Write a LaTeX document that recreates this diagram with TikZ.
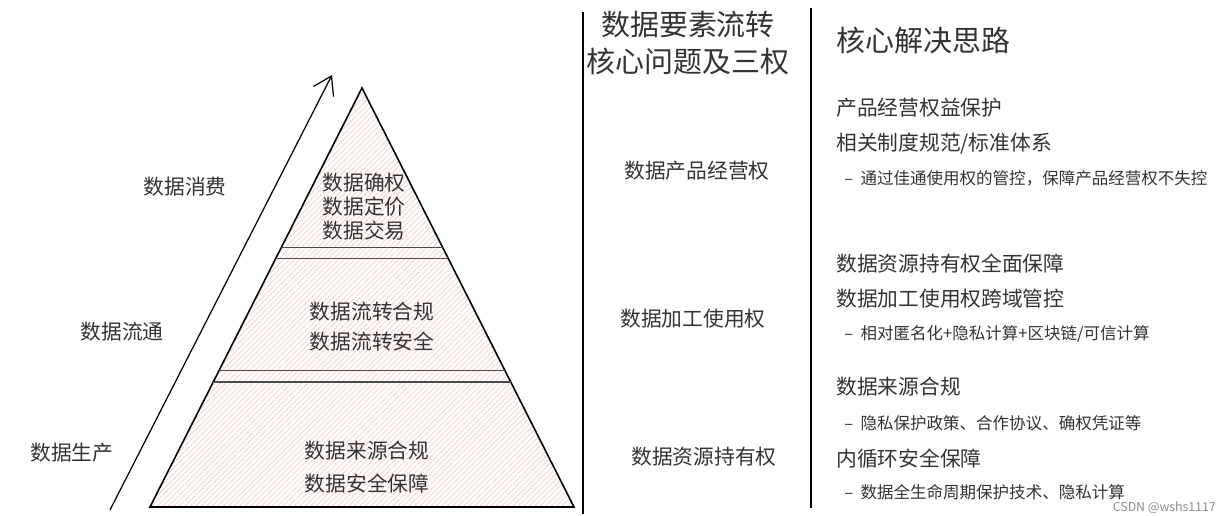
\documentclass[tikz,border=0pt]{standalone}
\usepackage{fontspec}
\setmainfont{Noto Sans CJK SC}
\usetikzlibrary{calc,patterns.meta,arrows.meta}
\definecolor{txt}{HTML}{333333}
\definecolor{hatch}{HTML}{F5BDBD}
\tikzset{
  lbl/.style={text=txt, font=\fontsize{11.8}{16}\selectfont, inner sep=0pt},
  big/.style={text=txt, font=\fontsize{16.5}{21}\selectfont, inner sep=0pt, align=center},
  note/.style={text=txt, font=\fontsize{9.4}{12}\selectfont, inner sep=0pt, anchor=west},
  item/.style={lbl, anchor=west},
  band/.style={draw=black!70, line width=0.9pt},
}
\begin{document}
\begin{tikzpicture}[x=0.02cm, y=-0.02cm]
		\useasboundingbox (0, 0) rectangle (1228, 516);
		% Pyramide
		\coordinate (top) at (362, 88);
		\coordinate (bl) at (150, 507);
		\coordinate (br) at (574, 507);
		\fill[pattern={Lines[angle=45, distance=2.2pt, line width=0.3pt]}, pattern color=hatch] (top) -- (bl) -- (br) -- cycle;
		\draw[line width=0.9pt] (top) -- (bl) -- (br) -- cycle;
		\foreach \t in {0.381, 0.407, 0.674, 0.702}
			\draw[band] ($(top)!\t!(bl)$) -- ($(top)!\t!(br)$);
		
		\node[lbl] (confirm) at (364, 183) {数据确权};
		\node[lbl] (price) at (364, 207) {数据定价};
		\node[lbl] (trade) at (364, 231) {数据交易};
		\node[lbl] (flowok) at (372, 312) {数据流转合规};
		\node[lbl] (flowsafe) at (372, 342) {数据流转安全};
		\node[lbl] (source) at (367, 451) {数据来源合规};
		\node[lbl] (safety) at (367, 484) {数据安全保障};
		
		% Pfeil
		\coordinate (arrowstart) at (110, 510);
		\coordinate (arrowend) at (332, 75);
		\draw[line width=0.7pt, -{Straight Barb[length=3.5mm, width=4.5mm]}] (arrowstart) -- (arrowend);
		\node[lbl] (consume) at (185, 187) {数据消费};
		\node[lbl] (flow) at (122, 332) {数据流通};
		\node[lbl] (produce) at (72, 453) {数据生产};
		
		% Trennlinien
		\draw[line width=0.8pt] (583, 12) -- (583, 514);
		\draw[line width=0.8pt] (811, 8) -- (811, 508);
		
		% Mitte
		\node[big] (title1) at (688, 43) {数据要素流转\\核心问题及三权};
		\node[lbl] (right3) at (697, 171) {数据产品经营权};
		\node[lbl] (right2) at (693, 319) {数据加工使用权};
		\node[lbl] (right1) at (704, 457) {数据资源持有权};
		
		% Rechts
		\node[big, anchor=west] (title2) at (836, 40) {核心解决思路};
		\node[item] (s1) at (836, 108) {产品经营权益保护};
		\node[item] (s2) at (836, 144) {相关制度规范/标准体系};
		\node[note] (n1) at (844, 178) {–\ \ 通过佳通使用权的管控，保障产品经营权不失控};
		\node[item] (s3) at (836, 264) {数据资源持有权全面保障};
		\node[item] (s4) at (836, 299) {数据加工使用权跨域管控};
		\node[note] (n2) at (844, 334) {–\ \ 相对匿名化+隐私计算+区块链/可信计算};
		\node[item] (s5) at (836, 387) {数据来源合规};
		\node[note] (n3) at (844, 423) {–\ \ 隐私保护政策、合作协议、确权凭证等};
		\node[item] (s6) at (836, 459) {内循环安全保障};
		\node[note] (n4) at (844, 492) {–\ \ 数据全生命周期保护技术、隐私计算};
		\node[text=black!45, font=\fontsize{7}{8}\selectfont, inner sep=0pt, anchor=east] (mark) at (1216, 508) {CSDN @wshs1117};
	\end{tikzpicture}
\end{document}
